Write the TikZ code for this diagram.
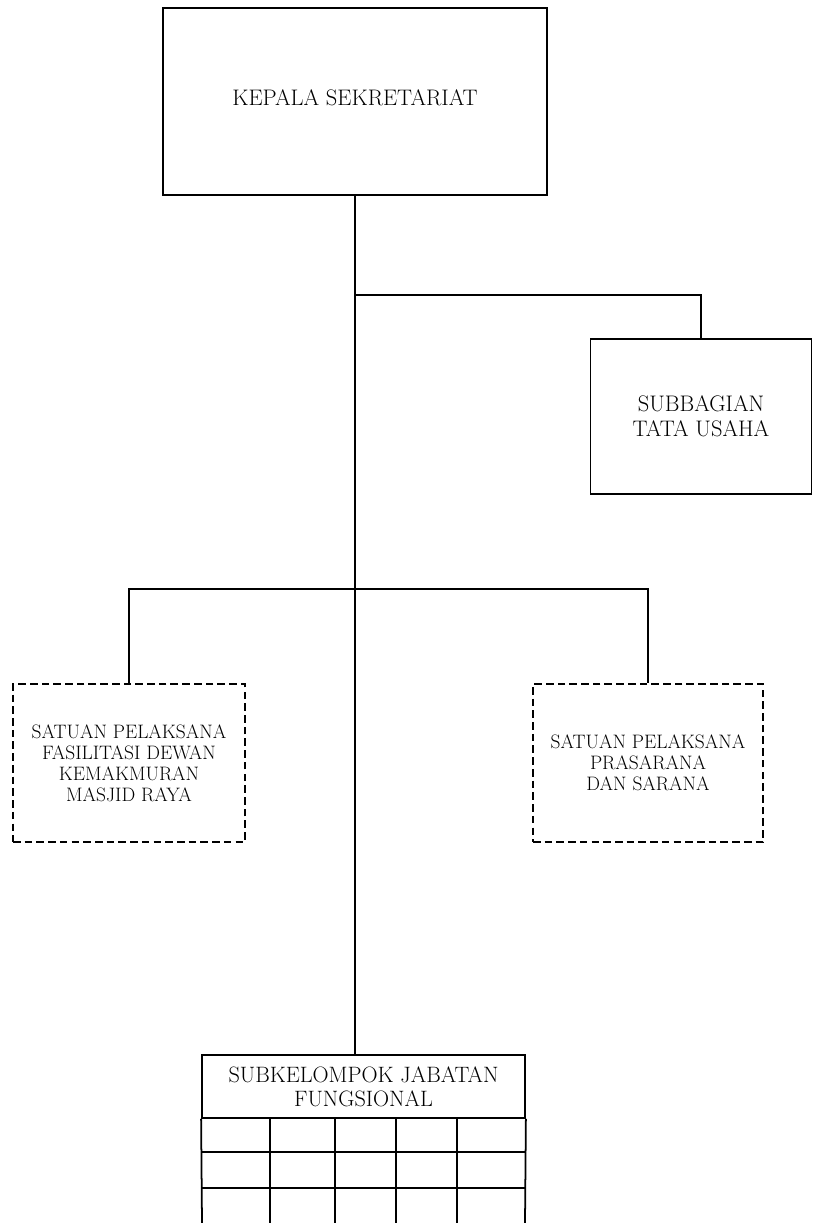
\documentclass[tikz,border=0pt]{standalone}
\usepackage{tikz}
\usetikzlibrary{positioning}

\begin{document}
\begin{tikzpicture}[x=0.03cm, y=-0.03cm, line width=1.5pt,
  solidbox/.style={draw, rectangle, align=center, inner sep=0pt},
  dashbox/.style={draw, rectangle, align=center, inner sep=0pt,
    line width=1.3pt, dash pattern=on 6.5pt off 3.5pt},
  bigtext/.style={font=\fontsize{19.2}{21.3}\selectfont},
  smalltext/.style={font=\fontsize{16.6}{17.9}\selectfont}]
  \useasboundingbox (0,0) rectangle (813,1223);
  % Head of the secretariat
  \node[solidbox, bigtext, minimum width=11.52cm, minimum height=5.61cm] (kepala) at (355,101.5)
    {\raisebox{0.24cm}{KEPALA SEKRETARIAT}};
  % Administration subsection
  \node[solidbox, bigtext, minimum width=6.63cm, minimum height=4.65cm] (tatausaha) at (701,416.5)
    {SUBBAGIAN\\TATA USAHA};
  % Implementing units (dashed)
  \node[dashbox, smalltext, minimum width=6.96cm, minimum height=4.74cm] (dkm) at (129,763)
    {SATUAN PELAKSANA\\FASILITASI DEWAN\\KEMAKMURAN\\MASJID RAYA};
  \node[dashbox, smalltext, minimum width=6.9cm, minimum height=4.74cm] (sarana) at (648,763)
    {SATUAN PELAKSANA\\PRASARANA\\DAN SARANA};
  % Functional group with its table
  \node[solidbox, font=\fontsize{19}{20.5}\selectfont, minimum width=9.69cm, minimum height=1.89cm] (fungsional) at (363.5,1086.5)
    {SUBKELOMPOK JABATAN\\FUNGSIONAL};
  \draw (fungsional.south west) -- (202,1223);
  \draw (fungsional.south east) -- (525,1223);
  \draw (270,1118) -- (270,1223);
  \draw (335,1118) -- (335,1223);
  \draw (396,1118) -- (396,1223);
  \draw (457,1118) -- (457,1223);
  \draw (202,1152) -- (525,1152);
  \draw (202,1188) -- (525,1188);
  % Connectors
  \coordinate (joint1) at (kepala.south |- 0,295);
  \coordinate (joint2) at (kepala.south |- 0,589);
  \draw (kepala.south) -- (kepala.south |- fungsional.north);
  \draw (joint1) -| (tatausaha.north);
  \draw (joint2) -| (dkm.north);
  \draw (joint2) -| (sarana.north);
\end{tikzpicture}
\end{document}
